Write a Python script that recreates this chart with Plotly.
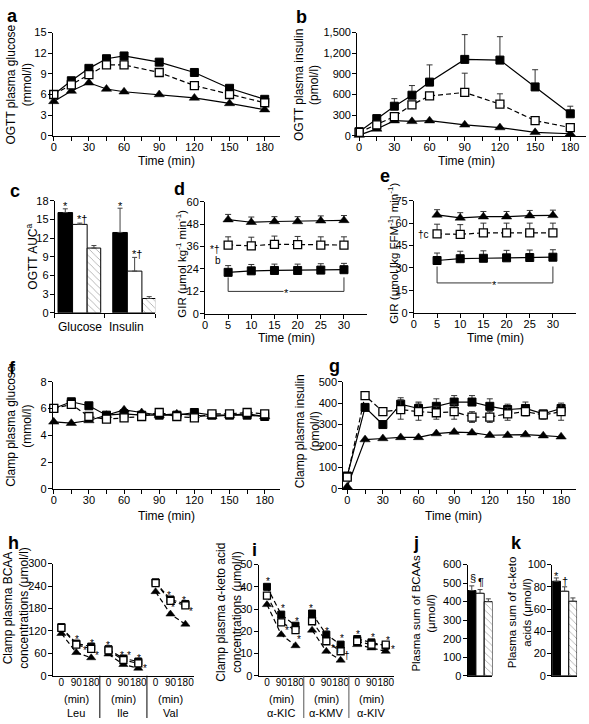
import plotly.graph_objects as go

W, H = 589, 724

# ---------------- data ----------------
ogtt_time = [0, 15, 30, 45, 60, 90, 120, 150, 180]
a_black = [6.0, 8.0, 9.8, 11.2, 11.6, 10.7, 9.2, 6.9, 5.3]
a_open = [6.0, 7.4, 8.9, 10.3, 10.3, 9.2, 7.3, 6.0, 4.8]
a_tri = [5.0, 6.5, 7.7, 6.8, 6.4, 6.0, 5.5, 4.7, 3.8]

b_black = [60, 250, 430, 590, 780, 1110, 1100, 710, 320]
b_black_err = [0, 40, 110, 140, 250, 360, 340, 250, 110]
b_open = [50, 160, 280, 450, 580, 630, 460, 220, 120]
b_open_err = [0, 0, 0, 0, 0, 280, 150, 0, 0]
b_tri = [10, 100, 220, 210, 220, 160, 120, 50, 30]

auc_categories = ['Glucose', 'Insulin']
auc_black = [16.1, 12.9]
auc_black_err = [0.6, 3.9]
auc_open = [14.2, 6.7]
auc_open_err = [0.2, 2.2]
auc_hatch = [10.4, 2.3]
auc_hatch_err = [0.4, 0.3]

gir_time = [5, 10, 15, 20, 25, 30]
d_tri = [50.4, 49.0, 49.4, 49.4, 49.8, 50.0]
d_tri_err = [2.8, 2.8, 2.6, 2.6, 2.6, 2.6]
d_open = [36.8, 36.4, 37.2, 37.0, 36.8, 36.8]
d_open_err = [4.4, 4.6, 4.4, 4.4, 4.4, 4.4]
d_black = [22.2, 23.0, 23.2, 23.2, 23.4, 23.6]
d_black_err = [3.6, 3.4, 3.4, 3.4, 3.4, 3.4]

e_tri = [65.5, 63.5, 64.3, 64.3, 65.0, 65.2]
e_tri_err = [3.5, 3.5, 3.5, 3.5, 3.5, 3.5]
e_open = [52.8, 52.5, 53.5, 53.5, 53.5, 53.5]
e_open_err = [6.5, 6.5, 6.5, 6.5, 6.5, 6.5]
e_black = [35.0, 36.2, 36.5, 36.8, 37.0, 37.2]
e_black_err = [5.0, 5.0, 5.0, 5.0, 5.0, 5.0]

clamp_time = [0, 15, 30, 45, 60, 75, 90, 105, 120, 135, 150, 165, 180]
f_black = [6.0, 6.5, 6.2, 5.5, 5.6, 5.5, 5.5, 5.5, 5.7, 5.5, 5.5, 5.5, 5.4]
f_open = [6.0, 6.3, 5.4, 5.2, 5.3, 5.4, 5.7, 5.4, 5.3, 5.6, 5.6, 5.7, 5.6]
f_tri = [5.0, 4.9, 5.1, 5.5, 5.9, 5.7, 5.5, 5.6, 5.5, 5.4, 5.5, 5.6, 5.4]

g_black = [60, 380, 300, 395, 375, 385, 405, 405, 385, 370, 375, 350, 375]
g_black_err = [0, 0, 0, 30, 30, 35, 30, 30, 35, 25, 30, 15, 10]
g_open = [55, 435, 360, 370, 360, 355, 360, 335, 335, 350, 360, 345, 360]
g_open_err = [0, 0, 0, 45, 40, 30, 35, 25, 25, 30, 20, 20, 40]
g_tri = [10, 230, 235, 240, 240, 258, 265, 262, 250, 250, 253, 248, 243]

bcaa_groups = ['Leu', 'Ile', 'Val']
keto_groups = ['α-KIC', 'α-KMV', 'α-KIV']
sample_labels = ['0', '90', '180']
h_black = [[130, 86, 78], [71, 46, 38], [250, 204, 192]]
h_open = [[128, 83, 72], [68, 42, 33], [248, 200, 188]]
h_tri = [[113, 62, 48], [58, 30, 20], [225, 165, 138]]

i_black = [[40, 27.5, 22.5], [28, 18.5, 14], [16.5, 15, 13.5]]
i_open = [[36, 24, 20.5], [24.5, 15.5, 11], [15.5, 14, 14]]
i_tri = [[32, 18.5, 13.5], [20.5, 11, 7], [14, 12.5, 11]]

j_values = [460, 445, 400]
j_err = [25, 20, 15]
k_values = [85, 76, 67]
k_err = [3, 4, 3]

# tick definitions
time_major = [0, 30, 60, 90, 120, 150, 180]
time_major_labels = ['0', '30', '60', '90', '120', '150', '180']
time_minor = [15, 45, 75, 105, 135, 165]
gir_ticks = [0, 5, 10, 15, 20, 25, 30]
gir_labels = ['0', '5', '10', '15', '20', '25', '30']

# ---------------- styles ----------------
FONT = 'Liberation Sans, Arial, Helvetica, sans-serif'
BSQ = dict(symbol='square', size=8, color='black', line=dict(color='black', width=1))
OSQ = dict(symbol='square', size=8, color='white', line=dict(color='black', width=1.3))
TRI = dict(symbol='triangle-up', size=9, color='black', line=dict(color='black', width=0.5))
SMALL_BSQ = dict(BSQ, size=7)
SMALL_OSQ = dict(OSQ, size=7)
SMALL_TRI = dict(TRI, size=8)
DASH = '5px,3px'

traces = []
layout = dict(width=W, height=H, autosize=False, margin=dict(l=0, r=0, t=0, b=0),
              plot_bgcolor='white', paper_bgcolor='white', showlegend=False,
              barmode='overlay', font=dict(family=FONT, size=11, color='black'))
annotations = []
shapes = []


def sfx(n):
    return '' if n == 1 else str(n)


def axes(n, xpx, ypx, xrange, yrange, xticks=None, xlabels=None, yticks=None, ylabels=None,
         xtickmarks='outside', xfont=11, xminor=None, xshowlabels=True):
    s = sfx(n)
    base = dict(showline=True, linecolor='black', linewidth=1, ticklen=4, tickwidth=1,
                tickcolor='black', showgrid=False, zeroline=False, fixedrange=True, tickangle=0)
    xa = dict(base, domain=[xpx[0] / W, xpx[1] / W], range=xrange, anchor='y' + s,
              tickmode='array', tickvals=xticks or [], ticktext=xlabels or [],
              ticks=xtickmarks, ticklabelstandoff=-3, showticklabels=xshowlabels,
              tickfont=dict(size=xfont, color='black', family=FONT))
    if xminor:
        xa['minor'] = dict(tickmode='array', tickvals=xminor, ticks='outside', ticklen=4,
                           tickwidth=1, tickcolor='black', showgrid=False)
    layout['xaxis' + s] = xa
    layout['yaxis' + s] = dict(base, domain=[1 - ypx[1] / H, 1 - ypx[0] / H], range=yrange, anchor='x' + s,
                               tickmode='array', tickvals=yticks, ticktext=ylabels, ticks='outside',
                               ticklabelstandoff=-1,
                               tickfont=dict(size=11, color='black', family=FONT))


def series(n, x, y, marker, dash='solid', err=None, errminus=None):
    s = sfx(n)
    kw = {}
    if err is not None:
        kw['error_y'] = dict(type='data', array=err,
                             arrayminus=errminus if errminus is not None else [0] * len(err),
                             symmetric=False, thickness=1, width=3, color='#333')
    traces.append(go.Scatter(x=x, y=y, mode='lines+markers',
                             marker=marker, line=dict(color='black', width=1.2, dash=dash),
                             xaxis='x' + s, yaxis='y' + s, cliponaxis=False, hoverinfo='skip', **kw))


def bar(n, x, y, err, kind, width):
    s = sfx(n)
    if kind == 'black':
        mk = dict(color='black', line=dict(color='black', width=1))
    elif kind == 'open':
        mk = dict(color='white', line=dict(color='black', width=1))
    else:
        mk = dict(color='white', line=dict(color='black', width=1),
                  pattern=dict(shape='\\', fgcolor='#444', bgcolor='white', size=5, solidity=0.15))
    traces.append(go.Bar(x=x, y=y, width=width, marker=mk, xaxis='x' + s, yaxis='y' + s,
                         error_y=dict(type='data', array=err, arrayminus=[0] * len(err), symmetric=False,
                                      thickness=1, width=2.5, color='#444'),
                         hoverinfo='skip'))


def px(x):
    return x / W


def py(y):
    return 1 - y / H


def label(text, x, y, size=18):
    annotations.append(dict(text='<b>%s</b>' % text, x=px(x), y=py(y), xref='paper', yref='paper',
                            showarrow=False, font=dict(size=size, family=FONT, color='black'),
                            xanchor='center', yanchor='middle'))


def ytitle(text, x, y, size=12):
    annotations.append(dict(text=text, x=px(x), y=py(y), xref='paper', yref='paper', showarrow=False,
                            textangle=-90, font=dict(size=size, family=FONT, color='black'),
                            xanchor='center', yanchor='middle'))


def ptext(text, x, y, size=12):
    annotations.append(dict(text=text, x=px(x), y=py(y), xref='paper', yref='paper', showarrow=False,
                            font=dict(size=size, family=FONT, color='black'),
                            xanchor='center', yanchor='middle'))


def dtext(n, text, x, y, size=11, bg=None, yshift=-3):
    s = sfx(n)
    a = dict(text=text, x=x, y=y, xref='x' + s, yref='y' + s, showarrow=False, yshift=yshift,
             font=dict(size=size, family=FONT, color='black'), xanchor='center', yanchor='middle')
    if bg:
        a['bgcolor'] = bg
        a['borderpad'] = 0
    annotations.append(a)


# ---------------- panel a ----------------
axes(1, (50, 278), (27, 132), [-0.85, 192.7], [0, 15], time_major, time_major_labels,
     [0, 3, 6, 9, 12, 15], ['0', '3', '6', '9', '12', '15'], xminor=time_minor)
series(1, ogtt_time, a_black, BSQ)
series(1, ogtt_time, a_tri, TRI)
series(1, ogtt_time, a_open, OSQ, dash=DASH)
label('a', 10, 10)
ytitle('OGTT plasma glucose<br>(mmol/l)', 16, 80)
ptext('Time (min)', 164, 158)

# ---------------- panel b ----------------
axes(2, (356, 586), (27, 132), [-1.7, 193.4], [0, 1500], time_major, time_major_labels,
     [0, 300, 600, 900, 1200, 1500], ['0', '300', '600', '900', '1,200', '1,500'], xminor=time_minor)
series(2, ogtt_time, b_black, BSQ, err=b_black_err)
series(2, ogtt_time, b_tri, TRI)
series(2, ogtt_time, b_open, OSQ, dash=DASH, err=b_open_err)
label('b', 300, 11)
ytitle('OGTT plasma insulin<br>(pmol/l)', 305, 80)
ptext('Time (min)', 466, 158)

# ---------------- panel c ----------------
axes(3, (52, 153), (198, 312), [0, 2], [0, 18], [0, 1, 2], None,
     [0, 3, 6, 9, 12, 15, 18], ['0', '3', '6', '9', '12', '15', '18'], xshowlabels=False)
c_off_black = [0.21, 1.30]
c_off_open = [0.50, 1.59]
c_off_hatch = [0.78, 1.88]
bar(3, c_off_black, auc_black, auc_black_err, 'black', 0.29)
bar(3, c_off_open, auc_open, auc_open_err, 'open', 0.29)
bar(3, c_off_hatch, auc_hatch, auc_hatch_err, 'hatch', 0.27)
label('c', 12, 188)
ytitle('OGTT AUC<sup>a</sup>', 29, 255)
ptext(auc_categories[0], 77, 326)
ptext(auc_categories[1], 124, 326)
dtext(3, '*', c_off_black[0], 17.6)
dtext(3, '*†', c_off_open[0] + 0.05, 15.6)
dtext(3, '*', c_off_black[1], 17.7)
dtext(3, '*†', c_off_open[1] + 0.05, 9.9)

# ---------------- panel d ----------------
axes(4, (203, 366), (199, 313), [0, 35], [0, 60], gir_ticks, gir_labels,
     [0, 12, 24, 36, 48, 60], ['0', '12', '24', '36', '48', '60'])
series(4, gir_time, d_black, BSQ, err=d_black_err)
series(4, gir_time, d_tri, TRI, err=d_tri_err)
series(4, gir_time, d_open, OSQ, dash=DASH, err=d_open_err)
label('d', 177, 186)
ytitle('GIR (μmol kg<sup>-1</sup> min<sup>-1</sup>)', 179, 262, size=11.5)
ptext('Time (min)', 285, 338)
for sh in [dict(x0=5, x1=30, y0=12, y1=12), dict(x0=5, x1=5, y0=12, y1=19.5), dict(x0=30, x1=30, y0=12, y1=19.5)]:
    shapes.append(dict(type='line', xref='x4', yref='y4', line=dict(color='#333', width=1), **sh))
dtext(4, '*', 17.5, 12, bg='white', yshift=-2)
dtext(4, '*†', 2.0, 36.0, size=10)
dtext(4, 'b', 2.9, 30.0, size=10)

# ---------------- panel e ----------------
axes(5, (413, 576), (198, 312), [0, 35], [0, 75], gir_ticks, gir_labels,
     [0, 15, 30, 45, 60, 75], ['0', '15', '30', '45', '60', '75'])
series(5, gir_time, e_black, BSQ, err=e_black_err)
series(5, gir_time, e_tri, TRI, err=e_tri_err)
series(5, gir_time, e_open, OSQ, dash=DASH, err=e_open_err)
label('e', 384, 173)
ytitle('GIR (μmol [kg FFM<sup>-1</sup>] min<sup>-1</sup>)', 392, 252, size=11.5)
ptext('Time (min)', 495, 338)
for sh in [dict(x0=5, x1=30, y0=20, y1=20), dict(x0=5, x1=5, y0=20, y1=31), dict(x0=30, x1=30, y0=20, y1=31)]:
    shapes.append(dict(type='line', xref='x5', yref='y5', line=dict(color='#333', width=1), **sh))
dtext(5, '*', 17.5, 20, bg='white', yshift=-2)
dtext(5, '†c', 2.0, 52.5, size=10, yshift=0)

# ---------------- panel f ----------------
axes(6, (50, 278), (382, 491), [-0.85, 192.7], [0, 8], time_major, time_major_labels,
     [0, 2, 4, 6, 8], ['0', '2', '4', '6', '8'], xminor=time_minor)
series(6, clamp_time, f_black, BSQ)
series(6, clamp_time, f_tri, TRI)
series(6, clamp_time, f_open, OSQ, dash=DASH)
label('f', 10, 368)
ytitle('Clamp plasma glucose<br>(mmol/l)', 16, 427)
ptext('Time (min)', 164, 519)

# ---------------- panel g ----------------
axes(7, (342, 576), (382, 491), [-3.35, 192.6], [0, 500], time_major, time_major_labels,
     [0, 100, 200, 300, 400, 500], ['0', '100', '200', '300', '400', '500'], xminor=time_minor)
series(7, clamp_time, g_black, BSQ, err=g_black_err)
series(7, clamp_time, g_tri, TRI)
series(7, clamp_time, g_open, OSQ, dash=DASH, err=g_open_err, errminus=g_open_err)
label('g', 333, 366)
ytitle('Clamp plasma insulin<br>(pmol/l)', 306, 432)
ptext('Time (min)', 453, 519)

# ---------------- panels h & i (grouped time courses) ----------------
pos_in_group = [0.55, 1.5, 2.45]


def grouped_xy(groups_vals):
    xs, ys = [], []
    for g, vals in enumerate(groups_vals):
        for t, v in enumerate(vals):
            xs.append(g * 3 + pos_in_group[t])
            ys.append(v)
        xs.append(None)
        ys.append(None)
    return xs, ys


tick_pos = [g * 3 + p for g in range(3) for p in pos_in_group]
tick_txt = sample_labels * 3

# h
axes(8, (50, 192), (567, 681), [0, 9], [0, 300], tick_pos, tick_txt,
     [0, 60, 120, 180, 240, 300], ['0', '60', '120', '180', '240', '300'], xtickmarks='', xfont=10)
for vals, mk in [(h_black, SMALL_BSQ), (h_tri, SMALL_TRI), (h_open, SMALL_OSQ)]:
    xs, ys = grouped_xy(vals)
    series(8, xs, ys, mk, dash=DASH)
label('h', 11, 546)
ytitle('Clamp plasma BCAA<br>concentrations (μmol/l)', 13, 612)
for g, name in enumerate(bcaa_groups):
    annotations.append(dict(text='(min)', x=g * 3 + 1.5, y=py(705), xref='x8', yref='paper', showarrow=False,
                            font=dict(size=11, family=FONT), xanchor='center', yanchor='middle'))
    annotations.append(dict(text=name, x=g * 3 + 1.5, y=py(719), xref='x8', yref='paper', showarrow=False,
                            font=dict(size=11, family=FONT), xanchor='center', yanchor='middle'))
for xv in [3, 6]:
    shapes.append(dict(type='line', xref='x8', yref='paper', x0=xv, x1=xv, y0=py(681), y1=0,
                       line=dict(color='black', width=1)))
for (xv, yv) in [(1.52, 105), (2.03, 76), (2.47, 95), (2.85, 63), (3.49, 89), (4.44, 63), (4.88, 63),
                 (5.51, 55), (5.89, 26), (7.41, 224), (7.67, 190), (8.37, 210), (8.81, 179)]:
    dtext(8, '*', xv, yv, size=10)

# i
axes(9, (257, 393), (568, 681), [0, 9], [0, 50], tick_pos, tick_txt,
     [0, 10, 20, 30, 40, 50], ['0', '10', '20', '30', '40', '50'], xtickmarks='', xfont=10)
for vals, mk in [(i_black, SMALL_BSQ), (i_tri, SMALL_TRI), (i_open, SMALL_OSQ)]:
    xs, ys = grouped_xy(vals)
    series(9, xs, ys, mk, dash=DASH)
label('i', 253, 553)
ytitle('Clamp plasma α-keto acid<br>concentrations (μmol/l)', 227, 616)
for g, name in enumerate(keto_groups):
    annotations.append(dict(text='(min)', x=g * 3 + 1.5, y=py(705), xref='x9', yref='paper', showarrow=False,
                            font=dict(size=11, family=FONT), xanchor='center', yanchor='middle'))
    annotations.append(dict(text=name, x=g * 3 + 1.5, y=py(719), xref='x9', yref='paper', showarrow=False,
                            font=dict(size=11, family=FONT), xanchor='center', yanchor='middle'))
for xv in [3, 6]:
    shapes.append(dict(type='line', xref='x9', yref='paper', x0=xv, x1=xv, y0=py(681), y1=0,
                       line=dict(color='#555', width=1)))
for (xv, yv, t) in [(0.6, 43.8, '*'), (1.59, 31.4, '*'), (1.85, 21.7, '*'), (2.58, 25.7, '*'), (2.65, 17.7, '*'),
                    (3.51, 31.4, '*'), (4.57, 21.2, '*'), (5.1, 13.5, '*†'), (5.56, 18.1, '*'), (5.9, 10.6, '†'),
                    (6.62, 19.9, '*'), (7.61, 18.6, '*'), (8.6, 17.3, '*'), (8.93, 13.3, '*')]:
    dtext(9, t, xv, yv, size=10)

# ---------------- panel j ----------------
bar_pos = [0.5, 1.5, 2.5]
axes(10, (467, 492), (568, 681), [0, 3], [0, 600], None, None,
     [0, 100, 200, 300, 400, 500, 600], ['0', '100', '200', '300', '400', '500', '600'], xtickmarks='',
     xshowlabels=False)
bar(10, [bar_pos[0]], [j_values[0]], [j_err[0]], 'black', 1.0)
bar(10, [bar_pos[1]], [j_values[1]], [j_err[1]], 'open', 1.0)
bar(10, [bar_pos[2]], [j_values[2]], [j_err[2]], 'hatch', 1.0)
label('j', 415, 546)
ytitle('Plasma sum of BCAAs<br>(μmol/l)', 423, 617, size=11.5)
dtext(10, '§', 0.6, 528, size=11, yshift=0)
dtext(10, '¶', 1.6, 508, size=11, yshift=0)

# ---------------- panel k ----------------
axes(11, (552, 577), (568, 681), [0, 3], [0, 100], None, None,
     [0, 20, 40, 60, 80, 100], ['0', '20', '40', '60', '80', '100'], xtickmarks='', xshowlabels=False)
bar(11, [bar_pos[0]], [k_values[0]], [k_err[0]], 'black', 1.0)
bar(11, [bar_pos[1]], [k_values[1]], [k_err[1]], 'open', 1.0)
bar(11, [bar_pos[2]], [k_values[2]], [k_err[2]], 'hatch', 1.0)
label('k', 516, 546)
ytitle('Plasma sum of α-keto<br>acids (μmol/l)', 519, 617, size=11.5)
dtext(11, '*', 0.5, 92, size=11)
dtext(11, '†', 1.6, 85, size=11, yshift=0)

layout['annotations'] = annotations
layout['shapes'] = shapes

fig = go.Figure(data=traces, layout=layout)
fig.write_html('out.html', config={'displayModeBar': False},
               post_script="document.body.style.margin='0';document.body.style.padding='0';"
                           "document.documentElement.style.overflow='hidden';")
